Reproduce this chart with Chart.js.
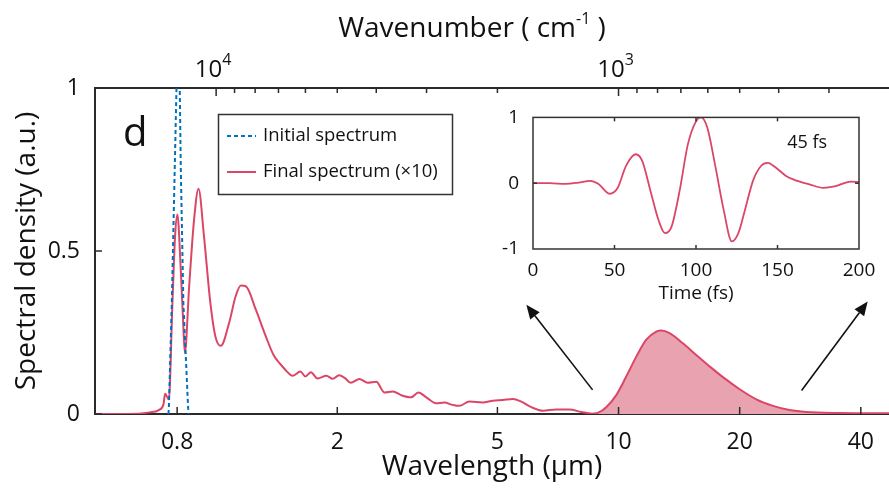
<!DOCTYPE html>
<html><head><meta charset="utf-8">
<script src="https://cdn.jsdelivr.net/npm/chart.js@4.4.1/dist/chart.umd.min.js"></script>
<style>
html,body{margin:0;padding:0;background:#fff;}
#wrap{position:relative;width:889px;height:491px;overflow:hidden;}
#main{position:absolute;left:0;top:0;}
#inset{position:absolute;left:480px;top:100px;}
</style></head><body>
<div id="wrap"><canvas id="main" width="889" height="491"></canvas><canvas id="inset" width="400" height="210"></canvas></div>
<script>
// ---------- data ----------
const wavelength = [0.50,0.60,0.684,0.72,0.74,0.7466,0.7629,0.7787,0.7907,0.801,0.8168,0.8275,0.836,0.857,0.8815,0.904,0.9327,0.9676,0.9957,1.027,1.077,1.118,1.152,1.185,1.255,1.329,1.39,1.435,1.449,1.50,1.548,1.62,1.666,1.72,1.786,1.88,1.95,2.02,2.09,2.16,2.27,2.38,2.5,2.62,2.75,2.88,3.05,3.18,3.33,3.52,3.69,3.87,4.02,4.26,4.6,4.87,5.16,5.46,5.73,6.07,6.49,7.0,7.55,8.08,8.6,8.9,9.32,9.87,10.45,11.07,11.72,12.41,12.77,13.39,14.45,15.6,16.84,18.17,20,22,24.2,26.6,29.3,35.5,47];
const finalSpectrum = [0,0,0.005,0.012,0.03,0.062,0.045,0.34,0.546,0.612,0.443,0.289,0.187,0.392,0.597,0.691,0.546,0.34,0.238,0.209,0.279,0.361,0.394,0.392,0.32,0.238,0.18,0.157,0.151,0.13,0.117,0.130,0.115,0.128,0.109,0.117,0.108,0.119,0.110,0.096,0.107,0.096,0.099,0.066,0.069,0.058,0.051,0.066,0.051,0.033,0.035,0.028,0.025,0.038,0.035,0.041,0.043,0.046,0.038,0.021,0.010,0.014,0.014,0.006,0.001,0.004,0.021,0.058,0.115,0.176,0.228,0.253,0.256,0.248,0.217,0.181,0.146,0.113,0.076,0.045,0.025,0.012,0.006,0.003,0.002];
const initialWavelength = [0.761,0.763,0.776,0.789,0.797,0.8044,0.812,0.817,0.829,0.852,0.855];
const initialSpectrum   = [0,0.018,0.341,0.751,1.0,1.15,1.0,0.751,0.341,0.018,0];
const fillStartWl = 8.6;
const wavelengthTicks = [0.8,2,5,10,20,40];
const densityTicks = [0,0.5,1];
const wavenumberMajor = [10000,1000];
const wavenumberMajorLabels = [['10','4'],['10','3']];
const wavenumberMinor = [9000,8000,7000,6000,5000,4000,3000,2000,900,800,700,600,500,400,300];
const timeFs = [0,10,20,28,35,40,47,52,57,63,67,72,77,81,85,90,95,100,103,107,112,117,122,126,130,135,140,144,150,155,160,170,178,185,195,200];
const field  = [0,0,-0.01,0.01,0.035,-0.01,-0.16,-0.07,0.26,0.44,0.34,-0.11,-0.56,-0.76,-0.66,-0.11,0.59,0.94,1.0,0.84,0.24,-0.41,-0.885,-0.76,-0.41,0.04,0.265,0.31,0.215,0.115,0.055,-0.02,-0.07,-0.05,0.025,0.015];
const timeTicks = [0,50,100,150,200];
const fieldTicks = [-1,0,1];
const arrows = [{from:[8.62,0.074],to:[5.90,0.335]},{from:[28.5,0.072],to:[41.6,0.345]}];

// ---------- style ----------
const FONT = "'Open Sans', 'Noto Sans', sans-serif";
const RED = '#DC4666';
const PINK = '#E9A3B0';
const BLUE = '#0072BD';
const AX = '#2a2a2a';

const pts = (xs, ys) => xs.map((x,i)=>({x, y: ys[i]}));
const allFinal = pts(wavelength, finalSpectrum);

function line(ctx,x1,y1,x2,y2){ctx.beginPath();ctx.moveTo(x1,y1);ctx.lineTo(x2,y2);ctx.stroke();}
function drawParts(ctx, parts, cx, baseY){
  let total = 0;
  parts.forEach(p=>{ctx.font = `${p.size}px ${FONT}`; p.w = ctx.measureText(p.t).width; total += p.w;});
  let x = cx - total/2;
  ctx.textBaseline='alphabetic'; ctx.textAlign='left';
  parts.forEach(p=>{ctx.font = `${p.size}px ${FONT}`; ctx.fillText(p.t, x, baseY - (p.rise||0)); x += p.w;});
}

const mainDeco = {
  id:'mainDeco',
  afterDraw(chart){
    const {ctx, chartArea:a, scales:{x,y}} = chart;
    ctx.save();
    ctx.strokeStyle = AX; ctx.lineWidth = 1.5;
    wavelengthTicks.forEach(v=>{const px=x.getPixelForValue(v); line(ctx,px,a.bottom,px,a.bottom-7);});
    wavenumberMajor.forEach(wn=>{const px=x.getPixelForValue(1e4/wn); line(ctx,px,a.top,px,a.top+8);});
    wavenumberMinor.forEach(wn=>{const l=1e4/wn; if(l<x.min||l>x.max) return; const px=x.getPixelForValue(l); line(ctx,px,a.top,px,a.top+5);});
    densityTicks.forEach(v=>{const py=y.getPixelForValue(v); line(ctx,a.left,py,a.left+7,py);});
    // top axis labels
    ctx.fillStyle = '#111';
    wavenumberMajor.forEach((wn,i)=>{
      const px = x.getPixelForValue(1e4/wn);
      drawParts(ctx,[{t:wavenumberMajorLabels[i][0],size:24},{t:wavenumberMajorLabels[i][1],size:16,rise:12}], px-3, a.top-11);
    });
    // top title
    drawParts(ctx,[{t:'Wavenumber ( cm',size:28},{t:'-1',size:16,rise:13},{t:' )',size:28}], 472, 37);
    // panel letter
    ctx.font = `40px ${FONT}`; ctx.textAlign='left'; ctx.textBaseline='alphabetic';
    ctx.fillText('d', 123, 146);
    // legend
    ctx.fillStyle='#fff'; ctx.fillRect(218,114,234,80);
    ctx.strokeStyle='#333'; ctx.lineWidth=1.5; ctx.strokeRect(218.5,114.5,234,80);
    ctx.lineWidth=2; ctx.strokeStyle=BLUE; ctx.setLineDash([4,3]); line(ctx,227,136,256,136);
    ctx.setLineDash([]); ctx.strokeStyle=RED; line(ctx,227,172,256,172);
    ctx.fillStyle='#111'; ctx.font=`18.5px ${FONT}`; ctx.textBaseline='middle';
    ctx.fillText('Initial spectrum',263,136);
    ctx.fillText('Final spectrum (×10)',263,172);
    // arrows
    ctx.strokeStyle='#111'; ctx.fillStyle='#111'; ctx.lineWidth=1.6;
    arrows.forEach(ar=>{
      const x1=x.getPixelForValue(ar.from[0]), y1=y.getPixelForValue(ar.from[1]);
      const x2=x.getPixelForValue(ar.to[0]), y2=y.getPixelForValue(ar.to[1]);
      const ang=Math.atan2(y2-y1,x2-x1), L=14, W=6;
      const bx=x2-L*Math.cos(ang), by=y2-L*Math.sin(ang);
      line(ctx,x1,y1,bx,by);
      ctx.beginPath(); ctx.moveTo(x2,y2);
      ctx.lineTo(bx+W*Math.sin(ang), by-W*Math.cos(ang));
      ctx.lineTo(bx-W*Math.sin(ang), by+W*Math.cos(ang));
      ctx.closePath(); ctx.fill();
    });
    ctx.restore();
  }
};

new Chart(document.getElementById('main'), {
  type:'line',
  data:{datasets:[
    {label:'Initial spectrum', data:pts(initialWavelength, initialSpectrum), borderColor:BLUE, borderWidth:2, borderDash:[4,3], pointRadius:0, fill:false, tension:0},
    {label:'Final spectrum (×10)', data:allFinal.filter(p=>p.x<=fillStartWl), borderColor:RED, borderWidth:2, pointRadius:0, fill:false, cubicInterpolationMode:'monotone'},
    {label:'Final spectrum fill', data:allFinal.filter(p=>p.x>=fillStartWl), borderColor:RED, backgroundColor:PINK, borderWidth:2, pointRadius:0, fill:'origin', cubicInterpolationMode:'monotone'}
  ]},
  options:{
    responsive:false, animation:false,
    layout:{padding:0},
    plugins:{legend:{display:false}, tooltip:{enabled:false}},
    scales:{
      x:{type:'logarithmic', position:'bottom', min:0.5, max:47,
        afterBuildTicks:s=>{s.ticks = wavelengthTicks.map(v=>({value:v}));},
        afterFit:s=>{s.height=77;},
        grid:{display:false}, border:{display:true,color:AX,width:2},
        ticks:{autoSkip:false,maxRotation:0,padding:7,color:'#111',font:{family:FONT,size:23},callback:v=>String(v)},
        title:{display:true,text:'Wavelength (µm)',color:'#111',font:{family:FONT,size:28},padding:{top:0,bottom:7}}},
      x2:{type:'logarithmic', position:'top', min:0.5, max:47,
        afterFit:s=>{s.height=88;},
        grid:{display:false}, border:{display:true,color:AX,width:2},
        ticks:{display:false}},
      y:{type:'linear', min:0, max:1,
        afterBuildTicks:s=>{s.ticks = densityTicks.map(v=>({value:v}));},
        afterFit:s=>{s.width=95;},
        grid:{display:false}, border:{display:true,color:AX,width:2},
        ticks:{padding:7,color:'#111',font:{family:FONT,size:23},callback:v=>String(v)},
        title:{display:true,text:'Spectral density (a.u.)',color:'#111',font:{family:FONT,size:28},padding:{top:10,bottom:0}}}
    }
  },
  plugins:[mainDeco]
});

const insetDeco = {
  id:'insetDeco',
  afterDraw(chart){
    const {ctx, chartArea:a, scales:{x,y}} = chart;
    ctx.save();
    ctx.strokeStyle='#333'; ctx.lineWidth=1.5;
    ctx.strokeRect(a.left, a.top, a.right-a.left, a.bottom-a.top);
    timeTicks.slice(1,-1).forEach(v=>{const px=x.getPixelForValue(v); line(ctx,px,a.bottom,px,a.bottom-4); line(ctx,px,a.top,px,a.top+4);});
    fieldTicks.slice(1,-1).forEach(v=>{const py=y.getPixelForValue(v); line(ctx,a.left,py,a.left+4,py); line(ctx,a.right,py,a.right-4,py);});
    ctx.fillStyle='#111'; ctx.font=`18px ${FONT}`; ctx.textAlign='left'; ctx.textBaseline='middle';
    ctx.fillText('45 fs', x.getPixelForValue(156), y.getPixelForValue(0.62));
    ctx.restore();
  }
};

new Chart(document.getElementById('inset'), {
  type:'line',
  data:{datasets:[{label:'Field', data:pts(timeFs, field), borderColor:RED, borderWidth:1.8, pointRadius:0, fill:false, cubicInterpolationMode:'monotone'}]},
  options:{
    responsive:false, animation:false,
    layout:{padding:{top:16,right:21,left:0,bottom:0}},
    plugins:{legend:{display:false}, tooltip:{enabled:false}},
    scales:{
      x:{type:'linear', min:0, max:200,
        afterBuildTicks:s=>{s.ticks = timeTicks.map(v=>({value:v}));},
        afterFit:s=>{s.height=61;},
        grid:{display:false}, border:{display:false},
        ticks:{padding:2,color:'#111',font:{family:FONT,size:19},maxRotation:0,autoSkip:false},
        title:{display:true,text:'Time (fs)',color:'#111',font:{family:FONT,size:19},padding:{top:0,bottom:5}}},
      y:{type:'linear', min:-1, max:1,
        afterBuildTicks:s=>{s.ticks = fieldTicks.map(v=>({value:v}));},
        afterFit:s=>{s.width=53;},
        grid:{display:false}, border:{display:false},
        ticks:{padding:6,color:'#111',font:{family:FONT,size:19}}}
    }
  },
  plugins:[insetDeco]
});
</script>
</body></html>
